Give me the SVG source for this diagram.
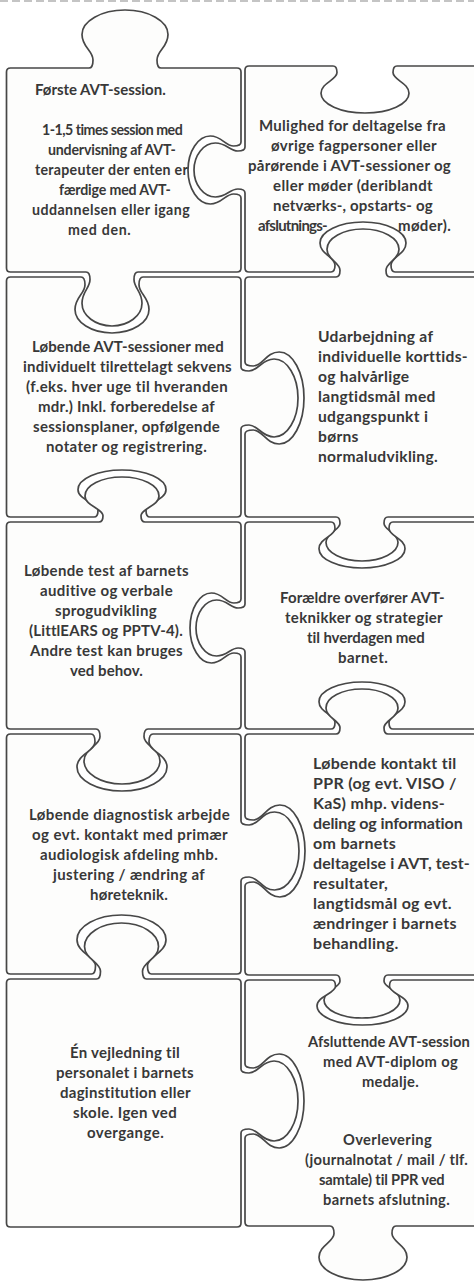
<svg xmlns="http://www.w3.org/2000/svg" width="474" height="1281" viewBox="0 0 474 1281">
<style>
.pc{fill:#fdfdfc;stroke:#474747;stroke-width:1.7;stroke-linejoin:round}
text{font-family:Lato,"Open Sans","Liberation Sans",sans-serif;font-weight:700;font-size:15px;letter-spacing:0.3px;fill:#383838}
.s14{font-size:14.2px}
.s155{font-size:15.6px}
.s16{font-size:16px}
.s147{font-size:14.7px}
</style>
<rect x="0" y="0" width="474" height="1281" fill="#ffffff"/>
<line x1="0" y1="1" x2="474" y2="1" stroke="#c4c4c4" stroke-width="2" stroke-dasharray="8 4"/>

<g id="piece-a">
<path class="pc" d="M10.5,68 L89,68 C92,68 93,64.5 93,59.9 C93,50.6 82,47.1 82,34.4 C82,21 101.3,10 125,10 C148.7,10 168,21 168,34.4 C168,47.1 157,50.6 157,59.9 C157,64.5 158,68 161,68 L237,68 Q241,68 241,72 L241,142 C241,145 237.8,146 233.6,146 C225.1,146 221.9,136 210.3,136 C198.1,136 188,151.3 188,170 C188,188.7 198.1,204 210.3,204 C221.9,204 225.1,194 233.6,194 C237.8,194 241,195 241,198 L241,268 Q241,272 237,272 L138,272 C135,272 134,275.2 134,279.6 C134,288.2 142,291.4 142,303.3 C142,315.7 128.5,326 112,326 C95.5,326 82,315.7 82,303.3 C82,291.4 90,288.2 90,279.6 C90,275.2 89,272 86,272 L10.5,272 Q6.5,272 6.5,268 L6.5,72 Q6.5,68 10.5,68 Z"/>
<text x="35" y="95" textLength="131">Første AVT-session.</text>
<text class="s14" x="42" y="135" textLength="141">1-1,5 times session med</text>
<text class="s14" x="48" y="155" textLength="128">undervisning af AVT-</text>
<text class="s14" x="35" y="175" textLength="153">terapeuter der enten er</text>
<text class="s14" x="59" y="195" textLength="112">færdige med AVT-</text>
<text class="s14" x="32" y="215" textLength="158">uddannelsen eller igang</text>
<text class="s14" x="68" y="235" textLength="63">med den.</text>
</g>

<g id="piece-b">
<path class="pc" d="M249,66 L333,66 C336,66 337,68.8 337,72.6 C337,80.1 321,82.9 321,93.3 C321,104.1 340.8,113 365,113 C389.2,113 409,104.1 409,93.3 C409,82.9 393,80.1 393,72.6 C393,68.8 394,66 397,66 L486,66 Q490,66 490,70 L490,268 Q490,272 486,272 L395,272 C392,272 391,269 391,265 C391,257 406,254 406,243 C406,231.5 386.65,222 363,222 C339.35,222 320,231.5 320,243 C320,254 335,257 335,265 C335,269 334,272 331,272 L249,272 Q245,272 245,268 L245,193 C245,190 241.9,189 237.9,189 C229.7,189 226.6,197 215.4,197 C203.7,197 194,184.85 194,170 C194,155.15 203.7,143 215.4,143 C226.6,143 229.7,151 237.9,151 C241.9,151 245,150 245,147 L245,70 Q245,66 249,66 Z"/>
<text x="259" y="131" textLength="187">Mulighed for deltagelse fra</text>
<text x="271" y="151" textLength="166">øvrige fagpersoner eller</text>
<text x="248" y="171" textLength="203">pårørende i AVT-sessioner og</text>
<text x="273" y="191" textLength="160">eller møder (deriblandt</text>
<text x="273" y="211" textLength="160">netværks-, opstarts- og</text>
<text x="258" y="231" textLength="70">afslutnings-</text>
<text x="398" y="231" textLength="53">møder).</text>
</g>

<g id="piece-c">
<path class="pc" d="M10.5,277 L81,277 C84,277 85,280.4 85,284.8 C85,293.8 75,297.2 75,309.5 C75,322.4 91.6,333 112,333 C132.4,333 149,322.4 149,309.5 C149,297.2 139,293.8 139,284.8 C139,280.4 140,277 143,277 L237,277 Q241,277 241,281 L241,367 C241,370 244.4,371 249,371 C258.1,371 261.5,359 274.1,359 C287.2,359 298,376.55 298,398 C298,419.45 287.2,437 274.1,437 C261.5,437 258.1,425 249,425 C244.4,425 241,426 241,429 L241,513 Q241,517 237,517 L150,517 C147,517 146,514.2 146,510.4 C146,502.9 166,500.1 166,489.7 C166,478.9 146.2,470 122,470 C97.8,470 78,478.9 78,489.7 C78,500.1 98,502.9 98,510.4 C98,514.2 97,517 94,517 L10.5,517 Q6.5,517 6.5,513 L6.5,281 Q6.5,277 10.5,277 Z"/>
<text x="32" y="352" textLength="192">Løbende AVT-sessioner med</text>
<text x="23" y="372" textLength="209">individuelt tilrettelagt sekvens</text>
<text x="26" y="392" textLength="202">(f.eks. hver uge til hveranden</text>
<text x="38" y="412" textLength="177">mdr.) Inkl. forberedelse af</text>
<text x="33" y="432" textLength="187">sessionsplaner, opfølgende</text>
<text x="46" y="452" textLength="161">notater og registrering.</text>
</g>

<g id="piece-d">
<path class="pc" d="M249,277 L336,277 C339,277 340,274.1 340,270.3 C340,262.6 327,259.7 327,249.2 C327,238.1 343.2,229 363,229 C382.8,229 399,238.1 399,249.2 C399,259.7 386,262.6 386,270.3 C386,274.1 387,277 390,277 L486,277 Q490,277 490,281 L490,513 Q490,517 486,517 L388,517 C385,517 384,519.6 384,523.2 C384,530.2 398,532.8 398,542.5 C398,552.6 381.8,561 362,561 C342.2,561 326,552.6 326,542.5 C326,532.8 340,530.2 340,523.2 C340,519.6 339,517 336,517 L249,517 Q245,517 245,513 L245,434 C245,431 248.5,430 253.3,430 C262.7,430 266.2,444 279.2,444 C292.8,444 304,423.3 304,398 C304,372.7 292.8,352 279.2,352 C266.2,352 262.7,366 253.3,366 C248.5,366 245,365 245,362 L245,281 Q245,277 249,277 Z"/>
<text class="s155" x="318" y="342">Udarbejdning af</text>
<text class="s155" x="318" y="362">individuelle korttids-</text>
<text class="s155" x="318" y="382">og halvårlige</text>
<text class="s155" x="318" y="402">langtidsmål med</text>
<text class="s155" x="318" y="422">udgangspunkt i</text>
<text class="s155" x="318" y="442">børns</text>
<text class="s155" x="318" y="462">normaludvikling.</text>
</g>

<g id="piece-e">
<path class="pc" d="M10.5,522 L99,522 C102,522 103,519.3 103,515.7 C103,508.5 85,505.8 85,495.9 C85,485.5 101.65,477 122,477 C142.35,477 159,485.5 159,495.9 C159,505.8 141,508.5 141,515.7 C141,519.3 142,522 145,522 L237,522 Q241,522 241,526 L241,599 C241,602 237.9,603 233.9,603 C225.7,603 222.6,593 211.4,593 C199.7,593 190,608.75 190,628 C190,647.25 199.7,663 211.4,663 C222.6,663 225.7,653 233.9,653 C237.9,653 241,654 241,657 L241,725 Q241,729 237,729 L148,729 C145,729 144,732.3 144,736.7 C144,745.5 160,748.8 160,760.9 C160,773.6 142.9,784 122,784 C101.1,784 84,773.6 84,760.9 C84,748.8 100,745.5 100,736.7 C100,732.3 99,729 96,729 L10.5,729 Q6.5,729 6.5,725 L6.5,526 Q6.5,522 10.5,522 Z"/>
<text x="24" y="576" textLength="165">Løbende test af barnets</text>
<text x="40" y="596" textLength="133">auditive og verbale</text>
<text x="55" y="616" textLength="102">sprogudvikling</text>
<text x="29" y="636" textLength="154">(LittlEARS og PPTV-4).</text>
<text x="30" y="656" textLength="153">Andre test kan bruges</text>
<text x="70" y="676" textLength="73">ved behov.</text>
</g>

<g id="piece-f">
<path class="pc" d="M249,522 L331,522 C334,522 335,524.8 335,528.4 C335,535.8 319,538.6 319,548.7 C319,559.3 338.35,568 362,568 C385.65,568 405,559.3 405,548.7 C405,538.6 389,535.8 389,528.4 C389,524.8 390,522 393,522 L486,522 Q490,522 490,526 L490,725 Q490,729 486,729 L393,729 C390,729 389,726.2 389,722.4 C389,714.9 405,712.1 405,701.7 C405,690.9 385.65,682 362,682 C338.35,682 319,690.9 319,701.7 C319,712.1 335,714.9 335,722.4 C335,726.2 334,729 331,729 L249,729 Q245,729 245,725 L245,652 C245,649 242.1,648 238.1,648 C230.3,648 227.4,656 216.6,656 C205.3,656 196,643.4 196,628 C196,612.6 205.3,600 216.6,600 C227.4,600 230.3,608 238.1,608 C242.1,608 245,607 245,604 L245,526 Q245,522 249,522 Z"/>
<text x="280" y="603" textLength="165">Forældre overfører AVT-</text>
<text x="285" y="623" textLength="158">teknikker og strategier</text>
<text x="307" y="643" textLength="118">til hverdagen med</text>
<text x="338" y="663" textLength="50">barnet.</text>
</g>

<g id="piece-g">
<path class="pc" d="M10.5,734 L91,734 C94,734 95,737.4 95,742 C95,751.1 77,754.5 77,767.1 C77,780.2 97.25,791 122,791 C146.75,791 167,780.2 167,767.1 C167,754.5 149,751.1 149,742 C149,737.4 150,734 153,734 L237,734 Q241,734 241,738 L241,821 C241,824 244.5,825 249.1,825 C258.4,825 261.9,812 274.6,812 C288,812 299,829.55 299,851 C299,872.45 288,890 274.6,890 C261.9,890 258.4,877 249.1,877 C244.5,877 241,878 241,881 L241,970 Q241,974 237,974 L151.5,974 C148.5,974 147.5,970.5 147.5,965.7 C147.5,956.3 166,952.8 166,939.8 C166,926.2 146,915 121.5,915 C97,915 77,926.2 77,939.8 C77,952.8 95.5,956.3 95.5,965.7 C95.5,970.5 94.5,974 91.5,974 L10.5,974 Q6.5,974 6.5,970 L6.5,738 Q6.5,734 10.5,734 Z"/>
<text x="29" y="820" textLength="201">Løbende diagnostisk arbejde</text>
<text x="32" y="840" textLength="196">og evt. kontakt med primær</text>
<text x="40" y="860" textLength="178">audiologisk afdeling mhb.</text>
<text x="53" y="880" textLength="152">justering / ændring af</text>
<text x="90" y="900" textLength="78">høreteknik.</text>
</g>

<g id="piece-h">
<path class="pc" d="M249,734 L336,734 C339,734 340,731.3 340,727.7 C340,720.5 326,717.8 326,707.9 C326,697.5 342.2,689 362,689 C381.8,689 398,697.5 398,707.9 C398,717.8 384,720.5 384,727.7 C384,731.3 385,734 388,734 L486,734 Q490,734 490,738 L490,971 Q490,975 486,975 L388,975 C385,975 384,977.6 384,981 C384,987.9 400,990.5 400,999.9 C400,1009.8 382.9,1018 362,1018 C341.1,1018 324,1009.8 324,999.9 C324,990.5 340,987.9 340,981 C340,977.6 339,975 336,975 L249,975 Q245,975 245,971 L245,886 C245,883 248.6,882 253.4,882 C263,882 266.6,897 279.8,897 C293.6,897 305,876.3 305,851 C305,825.7 293.6,805 279.8,805 C266.6,805 263,820 253.4,820 C248.6,820 245,819 245,816 L245,738 Q245,734 249,734 Z"/>
<text class="s16" x="313" y="769">Løbende kontakt til</text>
<text class="s16" x="313" y="789">PPR (og evt. VISO /</text>
<text class="s16" x="313" y="809">KaS) mhp. videns-</text>
<text class="s16" x="313" y="829" textLength="150">deling og information</text>
<text class="s16" x="313" y="849">om barnets</text>
<text class="s16" x="313" y="869" textLength="157">deltagelse i AVT, test-</text>
<text class="s16" x="313" y="889">resultater,</text>
<text class="s16" x="313" y="909">langtidsmål og evt.</text>
<text class="s16" x="313" y="929">ændringer i barnets</text>
<text class="s16" x="313" y="949">behandling.</text>
</g>

<g id="piece-i">
<path class="pc" d="M10.5,979 L96.5,979 C99.5,979 100.5,975.6 100.5,971.2 C100.5,962.2 84.5,958.8 84.5,946.5 C84.5,933.6 101.15,923 121.5,923 C141.85,923 158.5,933.6 158.5,946.5 C158.5,958.8 142.5,962.2 142.5,971.2 C142.5,975.6 143.5,979 146.5,979 L237,979 Q241,979 241,983 L241,1069 C241,1072 244.4,1073 249,1073 C258.1,1073 261.5,1061 274.1,1061 C287.2,1061 298,1079 298,1101 C298,1123 287.2,1141 274.1,1141 C261.5,1141 258.1,1129 249,1129 C244.4,1129 241,1130 241,1133 L241,1223 Q241,1227 237,1227 L10.5,1227 Q6.5,1227 6.5,1223 L6.5,983 Q6.5,979 10.5,979 Z"/>
<text x="70" y="1058" textLength="110">Én vejledning til</text>
<text x="56" y="1078" textLength="138">personalet i barnets</text>
<text x="60" y="1098" textLength="131">daginstitution eller</text>
<text x="73" y="1118" textLength="104">skole. Igen ved</text>
<text x="87" y="1138" textLength="77">overgange.</text>
</g>

<g id="piece-j">
<path class="pc" d="M249,980 L331.5,980 C334.5,980 335.5,982.7 335.5,986.3 C335.5,993.5 317,996.2 317,1006.1 C317,1016.5 337.5,1025 362.5,1025 C387.5,1025 408,1016.5 408,1006.1 C408,996.2 389.5,993.5 389.5,986.3 C389.5,982.7 390.5,980 393.5,980 L486,980 Q490,980 490,984 L490,1222 Q490,1226 486,1226 L396,1226 C393,1226 392,1229.2 392,1233.6 C392,1242.2 407,1245.4 407,1257.3 C407,1269.7 387.2,1280 363,1280 C338.8,1280 319,1269.7 319,1257.3 C319,1245.4 334,1242.2 334,1233.6 C334,1229.2 333,1226 330,1226 L249,1226 Q245,1226 245,1222 L245,1138 C245,1135 248.5,1134 253.3,1134 C262.7,1134 266.2,1148 279.2,1148 C292.8,1148 304,1126.85 304,1101 C304,1075.15 292.8,1054 279.2,1054 C266.2,1054 262.7,1068 253.3,1068 C248.5,1068 245,1067 245,1064 L245,984 Q245,980 249,980 Z"/>
<text class="s147" x="308" y="1047" textLength="162">Afsluttende AVT-session</text>
<text class="s147" x="323" y="1067" textLength="135">med AVT-diplom og</text>
<text class="s147" x="362" y="1087" textLength="57">medalje.</text>
<text class="s147" x="343" y="1145" textLength="89">Overlevering</text>
<text class="s147" x="305" y="1165" textLength="163">(journalnotat / mail / tlf.</text>
<text class="s147" x="319" y="1185" textLength="126">samtale) til PPR ved</text>
<text class="s147" x="323" y="1205" textLength="127">barnets afslutning.</text>
</g>
</svg>
